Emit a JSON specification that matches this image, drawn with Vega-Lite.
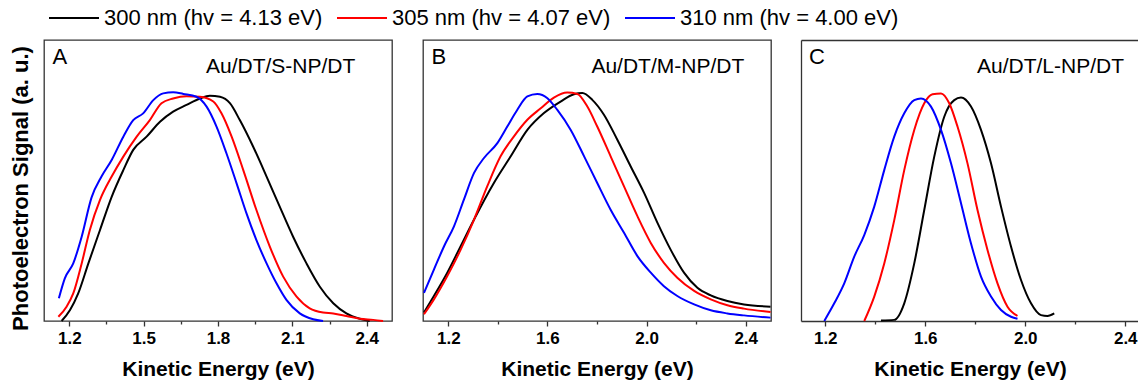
{
  "$schema": "https://vega.github.io/schema/vega-lite/v6.json",
  "padding": {"left": 8, "top": 7, "right": 0, "bottom": 0},
  "spacing": 29,
  "data": {"values": [
    {"p":"A","s":"300","e":1.169,"v":0},{"p":"A","s":"300","e":1.203,"v":0.039},{"p":"A","s":"300","e":1.236,"v":0.098},{"p":"A","s":"300","e":1.277,"v":0.205},{"p":"A","s":"300","e":1.324,"v":0.324},{"p":"A","s":"300","e":1.371,"v":0.442},{"p":"A","s":"300","e":1.418,"v":0.537},{"p":"A","s":"300","e":1.458,"v":0.609},{"p":"A","s":"300","e":1.512,"v":0.656},{"p":"A","s":"300","e":1.566,"v":0.709},{"p":"A","s":"300","e":1.619,"v":0.745},{"p":"A","s":"300","e":1.673,"v":0.769},{"p":"A","s":"300","e":1.727,"v":0.792},{"p":"A","s":"300","e":1.767,"v":0.802},{"p":"A","s":"300","e":1.808,"v":0.798},{"p":"A","s":"300","e":1.848,"v":0.775},{"p":"A","s":"300","e":1.888,"v":0.715},{"p":"A","s":"300","e":1.942,"v":0.62},{"p":"A","s":"300","e":1.996,"v":0.514},{"p":"A","s":"300","e":2.049,"v":0.407},{"p":"A","s":"300","e":2.103,"v":0.3},{"p":"A","s":"300","e":2.157,"v":0.205},{"p":"A","s":"300","e":2.211,"v":0.122},{"p":"A","s":"300","e":2.265,"v":0.063},{"p":"A","s":"300","e":2.318,"v":0.027},{"p":"A","s":"300","e":2.372,"v":0.008},{"p":"A","s":"300","e":2.412,"v":0},
    {"p":"A","s":"305","e":1.156,"v":0.015},{"p":"A","s":"305","e":1.189,"v":0.051},{"p":"A","s":"305","e":1.216,"v":0.098},{"p":"A","s":"305","e":1.25,"v":0.205},{"p":"A","s":"305","e":1.283,"v":0.324},{"p":"A","s":"305","e":1.324,"v":0.431},{"p":"A","s":"305","e":1.371,"v":0.514},{"p":"A","s":"305","e":1.418,"v":0.585},{"p":"A","s":"305","e":1.472,"v":0.656},{"p":"A","s":"305","e":1.525,"v":0.715},{"p":"A","s":"305","e":1.572,"v":0.775},{"p":"A","s":"305","e":1.619,"v":0.792},{"p":"A","s":"305","e":1.673,"v":0.8},{"p":"A","s":"305","e":1.727,"v":0.798},{"p":"A","s":"305","e":1.781,"v":0.781},{"p":"A","s":"305","e":1.814,"v":0.739},{"p":"A","s":"305","e":1.855,"v":0.656},{"p":"A","s":"305","e":1.902,"v":0.537},{"p":"A","s":"305","e":1.955,"v":0.395},{"p":"A","s":"305","e":2.009,"v":0.265},{"p":"A","s":"305","e":2.063,"v":0.158},{"p":"A","s":"305","e":2.117,"v":0.087},{"p":"A","s":"305","e":2.17,"v":0.045},{"p":"A","s":"305","e":2.224,"v":0.03},{"p":"A","s":"305","e":2.265,"v":0.027},{"p":"A","s":"305","e":2.318,"v":0.018},{"p":"A","s":"305","e":2.372,"v":0.008},{"p":"A","s":"305","e":2.426,"v":0.004},{"p":"A","s":"305","e":2.466,"v":0},
    {"p":"A","s":"310","e":1.158,"v":0.081},{"p":"A","s":"310","e":1.182,"v":0.152},{"p":"A","s":"310","e":1.216,"v":0.205},{"p":"A","s":"310","e":1.25,"v":0.3},{"p":"A","s":"310","e":1.29,"v":0.44},{"p":"A","s":"310","e":1.33,"v":0.514},{"p":"A","s":"310","e":1.371,"v":0.573},{"p":"A","s":"310","e":1.418,"v":0.656},{"p":"A","s":"310","e":1.458,"v":0.715},{"p":"A","s":"310","e":1.498,"v":0.739},{"p":"A","s":"310","e":1.539,"v":0.786},{"p":"A","s":"310","e":1.579,"v":0.81},{"p":"A","s":"310","e":1.619,"v":0.814},{"p":"A","s":"310","e":1.66,"v":0.808},{"p":"A","s":"310","e":1.713,"v":0.798},{"p":"A","s":"310","e":1.754,"v":0.763},{"p":"A","s":"310","e":1.794,"v":0.692},{"p":"A","s":"310","e":1.834,"v":0.597},{"p":"A","s":"310","e":1.875,"v":0.49},{"p":"A","s":"310","e":1.915,"v":0.383},{"p":"A","s":"310","e":1.955,"v":0.288},{"p":"A","s":"310","e":1.996,"v":0.205},{"p":"A","s":"310","e":2.036,"v":0.134},{"p":"A","s":"310","e":2.076,"v":0.075},{"p":"A","s":"310","e":2.13,"v":0.027},{"p":"A","s":"310","e":2.184,"v":0.006},{"p":"A","s":"310","e":2.224,"v":0},
    {"p":"B","s":"300","e":1.102,"v":0.03},{"p":"B","s":"300","e":1.142,"v":0.089},{"p":"B","s":"300","e":1.196,"v":0.172},{"p":"B","s":"300","e":1.25,"v":0.266},{"p":"B","s":"300","e":1.304,"v":0.361},{"p":"B","s":"300","e":1.384,"v":0.491},{"p":"B","s":"300","e":1.452,"v":0.586},{"p":"B","s":"300","e":1.519,"v":0.68},{"p":"B","s":"300","e":1.586,"v":0.74},{"p":"B","s":"300","e":1.653,"v":0.781},{"p":"B","s":"300","e":1.707,"v":0.807},{"p":"B","s":"300","e":1.741,"v":0.811},{"p":"B","s":"300","e":1.781,"v":0.787},{"p":"B","s":"300","e":1.828,"v":0.734},{"p":"B","s":"300","e":1.882,"v":0.645},{"p":"B","s":"300","e":1.936,"v":0.55},{"p":"B","s":"300","e":1.99,"v":0.456},{"p":"B","s":"300","e":2.044,"v":0.349},{"p":"B","s":"300","e":2.097,"v":0.254},{"p":"B","s":"300","e":2.151,"v":0.172},{"p":"B","s":"300","e":2.205,"v":0.118},{"p":"B","s":"300","e":2.259,"v":0.091},{"p":"B","s":"300","e":2.326,"v":0.071},{"p":"B","s":"300","e":2.393,"v":0.059},{"p":"B","s":"300","e":2.5,"v":0.051},
    {"p":"B","s":"305","e":1.102,"v":0.024},{"p":"B","s":"305","e":1.142,"v":0.077},{"p":"B","s":"305","e":1.196,"v":0.16},{"p":"B","s":"305","e":1.25,"v":0.254},{"p":"B","s":"305","e":1.304,"v":0.361},{"p":"B","s":"305","e":1.357,"v":0.479},{"p":"B","s":"305","e":1.411,"v":0.586},{"p":"B","s":"305","e":1.465,"v":0.657},{"p":"B","s":"305","e":1.519,"v":0.716},{"p":"B","s":"305","e":1.573,"v":0.757},{"p":"B","s":"305","e":1.626,"v":0.795},{"p":"B","s":"305","e":1.68,"v":0.813},{"p":"B","s":"305","e":1.721,"v":0.808},{"p":"B","s":"305","e":1.761,"v":0.763},{"p":"B","s":"305","e":1.801,"v":0.692},{"p":"B","s":"305","e":1.855,"v":0.586},{"p":"B","s":"305","e":1.909,"v":0.479},{"p":"B","s":"305","e":1.963,"v":0.373},{"p":"B","s":"305","e":2.017,"v":0.278},{"p":"B","s":"305","e":2.07,"v":0.207},{"p":"B","s":"305","e":2.124,"v":0.154},{"p":"B","s":"305","e":2.192,"v":0.107},{"p":"B","s":"305","e":2.259,"v":0.077},{"p":"B","s":"305","e":2.326,"v":0.056},{"p":"B","s":"305","e":2.393,"v":0.044},{"p":"B","s":"305","e":2.5,"v":0.032},
    {"p":"B","s":"310","e":1.102,"v":0.1},{"p":"B","s":"310","e":1.142,"v":0.183},{"p":"B","s":"310","e":1.183,"v":0.266},{"p":"B","s":"310","e":1.223,"v":0.337},{"p":"B","s":"310","e":1.263,"v":0.432},{"p":"B","s":"310","e":1.304,"v":0.527},{"p":"B","s":"310","e":1.344,"v":0.58},{"p":"B","s":"310","e":1.398,"v":0.633},{"p":"B","s":"310","e":1.438,"v":0.692},{"p":"B","s":"310","e":1.478,"v":0.751},{"p":"B","s":"310","e":1.519,"v":0.799},{"p":"B","s":"310","e":1.559,"v":0.808},{"p":"B","s":"310","e":1.6,"v":0.793},{"p":"B","s":"310","e":1.64,"v":0.751},{"p":"B","s":"310","e":1.694,"v":0.68},{"p":"B","s":"310","e":1.748,"v":0.586},{"p":"B","s":"310","e":1.801,"v":0.491},{"p":"B","s":"310","e":1.855,"v":0.396},{"p":"B","s":"310","e":1.909,"v":0.314},{"p":"B","s":"310","e":1.963,"v":0.231},{"p":"B","s":"310","e":2.017,"v":0.172},{"p":"B","s":"310","e":2.07,"v":0.124},{"p":"B","s":"310","e":2.124,"v":0.089},{"p":"B","s":"310","e":2.192,"v":0.059},{"p":"B","s":"310","e":2.259,"v":0.038},{"p":"B","s":"310","e":2.326,"v":0.027},{"p":"B","s":"310","e":2.393,"v":0.02},{"p":"B","s":"310","e":2.5,"v":0.012},
    {"p":"C","s":"300","e":1.423,"v":0.002},{"p":"C","s":"300","e":1.476,"v":0.004},{"p":"C","s":"300","e":1.516,"v":0.063},{"p":"C","s":"300","e":1.556,"v":0.205},{"p":"C","s":"300","e":1.596,"v":0.395},{"p":"C","s":"300","e":1.636,"v":0.585},{"p":"C","s":"300","e":1.676,"v":0.727},{"p":"C","s":"300","e":1.716,"v":0.786},{"p":"C","s":"300","e":1.743,"v":0.795},{"p":"C","s":"300","e":1.783,"v":0.763},{"p":"C","s":"300","e":1.823,"v":0.68},{"p":"C","s":"300","e":1.863,"v":0.561},{"p":"C","s":"300","e":1.903,"v":0.407},{"p":"C","s":"300","e":1.943,"v":0.265},{"p":"C","s":"300","e":1.983,"v":0.146},{"p":"C","s":"300","e":2.023,"v":0.063},{"p":"C","s":"300","e":2.063,"v":0.021},{"p":"C","s":"300","e":2.089,"v":0.018},{"p":"C","s":"300","e":2.116,"v":0.027},
    {"p":"C","s":"305","e":1.356,"v":0},{"p":"C","s":"305","e":1.396,"v":0.087},{"p":"C","s":"305","e":1.436,"v":0.205},{"p":"C","s":"305","e":1.476,"v":0.359},{"p":"C","s":"305","e":1.516,"v":0.537},{"p":"C","s":"305","e":1.556,"v":0.68},{"p":"C","s":"305","e":1.596,"v":0.775},{"p":"C","s":"305","e":1.629,"v":0.807},{"p":"C","s":"305","e":1.663,"v":0.81},{"p":"C","s":"305","e":1.696,"v":0.775},{"p":"C","s":"305","e":1.729,"v":0.692},{"p":"C","s":"305","e":1.769,"v":0.561},{"p":"C","s":"305","e":1.809,"v":0.395},{"p":"C","s":"305","e":1.849,"v":0.253},{"p":"C","s":"305","e":1.889,"v":0.134},{"p":"C","s":"305","e":1.929,"v":0.051},{"p":"C","s":"305","e":1.969,"v":0.018},
    {"p":"C","s":"310","e":1.196,"v":0},{"p":"C","s":"310","e":1.236,"v":0.063},{"p":"C","s":"310","e":1.276,"v":0.134},{"p":"C","s":"310","e":1.316,"v":0.229},{"p":"C","s":"310","e":1.356,"v":0.306},{"p":"C","s":"310","e":1.396,"v":0.407},{"p":"C","s":"310","e":1.436,"v":0.537},{"p":"C","s":"310","e":1.476,"v":0.656},{"p":"C","s":"310","e":1.516,"v":0.739},{"p":"C","s":"310","e":1.556,"v":0.786},{"p":"C","s":"310","e":1.583,"v":0.792},{"p":"C","s":"310","e":1.623,"v":0.763},{"p":"C","s":"310","e":1.663,"v":0.68},{"p":"C","s":"310","e":1.703,"v":0.561},{"p":"C","s":"310","e":1.743,"v":0.419},{"p":"C","s":"310","e":1.783,"v":0.276},{"p":"C","s":"310","e":1.823,"v":0.158},{"p":"C","s":"310","e":1.863,"v":0.087},{"p":"C","s":"310","e":1.903,"v":0.039},{"p":"C","s":"310","e":1.943,"v":0.015},{"p":"C","s":"310","e":1.969,"v":0.008}
  ]},
  "hconcat": [
    {
      "width": 348, "height": 281,
      "resolve": {"axis": {"x": "independent"}},
      "layer": [
        {
          "transform": [{"filter": "datum.p == 'A'"}],
          "mark": {"type": "line", "strokeWidth": 2, "interpolate": "monotone"},
          "encoding": {
            "x": {"field": "e", "type": "quantitative", "scale": {"domain": [1.098, 2.502], "nice": false, "zero": false},
              "axis": {"orient": "bottom", "values": [1.2, 1.5, 1.8, 2.1, 2.4], "format": ".1f", "tickSize": 5, "title": "Kinetic Energy (eV)"}},
            "y": {"field": "v", "type": "quantitative", "scale": {"domain": [0, 1], "nice": false},
              "axis": {"title": "Photoelectron Signal (a. u.)", "ticks": false, "labels": false, "domain": false, "grid": false, "titleFontSize": 22, "titleFontWeight": "bold", "titlePadding": 12, "titleColor": "#000", "titleY": 148}},
            "color": {"field": "s", "type": "nominal", "title": null,
              "scale": {"domain": ["300", "305", "310"], "range": ["#000000", "#ff0000", "#0000ff"]},
              "legend": {"labelExpr": "datum.label == '300' ? '300 nm (hv = 4.13 eV)' : datum.label == '305' ? '305 nm (hv = 4.07 eV)' : '310 nm (hv = 4.00 eV)'"}}
          }
        },
        {
          "data": {"values": [{"t": "A"}]},
          "mark": {"type": "text", "align": "left", "baseline": "alphabetic", "fontSize": 22, "color": "#000"},
          "encoding": {"text": {"field": "t"},
            "x": {"datum": 1.132, "type": "quantitative", "axis": {"orient": "bottom", "values": [1.35, 1.65, 1.95, 2.25], "labels": false, "tickSize": 3, "title": null}},
            "y": {"datum": 0.914, "type": "quantitative"}}
        },
        {
          "data": {"values": [{"t": "Au/DT/S-NP/DT"}]},
          "mark": {"type": "text", "align": "right", "baseline": "alphabetic", "fontSize": 21, "color": "#000"},
          "encoding": {"text": {"field": "t"}, "x": {"datum": 2.354, "type": "quantitative", "axis": null}, "y": {"datum": 0.881, "type": "quantitative"}}
        }
      ]
    },
    {
      "width": 348, "height": 281,
      "resolve": {"axis": {"x": "independent"}},
      "layer": [
        {
          "transform": [{"filter": "datum.p == 'B'"}],
          "mark": {"type": "line", "strokeWidth": 2, "interpolate": "monotone", "clip": true},
          "encoding": {
            "x": {"field": "e", "type": "quantitative", "scale": {"domain": [1.098, 2.502], "nice": false, "zero": false},
              "axis": {"orient": "bottom", "values": [1.2, 1.6, 2.0, 2.4], "format": ".1f", "tickSize": 5, "title": "Kinetic Energy (eV)"}},
            "y": {"field": "v", "type": "quantitative", "scale": {"domain": [0, 1], "nice": false}, "axis": null},
            "color": {"field": "s", "type": "nominal", "title": null,
              "scale": {"domain": ["300", "305", "310"], "range": ["#000000", "#ff0000", "#0000ff"]},
              "legend": {"labelExpr": "datum.label == '300' ? '300 nm (hv = 4.13 eV)' : datum.label == '305' ? '305 nm (hv = 4.07 eV)' : '310 nm (hv = 4.00 eV)'"}}
          }
        },
        {
          "data": {"values": [{"t": "B"}]},
          "mark": {"type": "text", "align": "left", "baseline": "alphabetic", "fontSize": 22, "color": "#000"},
          "encoding": {"text": {"field": "t"},
            "x": {"datum": 1.132, "type": "quantitative", "axis": {"orient": "bottom", "values": [1.4, 1.8, 2.2], "labels": false, "tickSize": 3, "title": null}},
            "y": {"datum": 0.914, "type": "quantitative", "axis": null}}
        },
        {
          "data": {"values": [{"t": "Au/DT/M-NP/DT"}]},
          "mark": {"type": "text", "align": "right", "baseline": "alphabetic", "fontSize": 21, "color": "#000"},
          "encoding": {"text": {"field": "t"}, "x": {"datum": 2.394, "type": "quantitative", "axis": null}, "y": {"datum": 0.881, "type": "quantitative", "axis": null}}
        }
      ]
    },
    {
      "width": 338, "height": 281,
      "view": {"stroke": null},
      "resolve": {"axis": {"x": "independent"}},
      "layer": [
        {
          "transform": [{"filter": "datum.p == 'C'"}],
          "mark": {"type": "line", "strokeWidth": 2, "interpolate": "monotone"},
          "encoding": {
            "x": {"field": "e", "type": "quantitative", "scale": {"domain": [1.103, 2.455], "nice": false, "zero": false},
              "axis": {"orient": "bottom", "values": [1.2, 1.6, 2.0, 2.4], "format": ".1f", "tickSize": 5, "domain": true, "title": "Kinetic Energy (eV)"}},
            "y": {"field": "v", "type": "quantitative", "scale": {"domain": [0, 1], "nice": false},
              "axis": {"title": null, "ticks": false, "labels": false, "domain": true, "grid": false}},
            "color": {"field": "s", "type": "nominal", "title": null,
              "scale": {"domain": ["300", "305", "310"], "range": ["#000000", "#ff0000", "#0000ff"]},
              "legend": {"labelExpr": "datum.label == '300' ? '300 nm (hv = 4.13 eV)' : datum.label == '305' ? '305 nm (hv = 4.07 eV)' : '310 nm (hv = 4.00 eV)'"}}
          }
        },
        {
          "data": {"values": [{"t": "C"}]},
          "mark": {"type": "text", "align": "left", "baseline": "alphabetic", "fontSize": 22, "color": "#000"},
          "encoding": {"text": {"field": "t"},
            "x": {"datum": 1.135, "type": "quantitative", "axis": {"orient": "bottom", "values": [1.4, 1.8, 2.2], "labels": false, "tickSize": 3, "title": null}},
            "y": {"datum": 0.914, "type": "quantitative"}}
        },
        {
          "data": {"values": [{"t": "Au/DT/L-NP/DT"}]},
          "mark": {"type": "text", "align": "right", "baseline": "alphabetic", "fontSize": 21, "color": "#000"},
          "encoding": {"text": {"field": "t"},
            "x": {"datum": 2.395, "type": "quantitative", "axis": {"orient": "top", "domain": true, "ticks": false, "labels": false, "title": null}},
            "y": {"datum": 0.881, "type": "quantitative"}}
        }
      ]
    }
  ],
  "resolve": {"scale": {"color": "shared"}, "legend": {"color": "shared"}},
  "config": {
    "font": "Liberation Sans",
    "view": {"stroke": "#333333", "strokeWidth": 1.3},
    "axis": {"grid": false, "domain": false, "domainColor": "#333333", "domainWidth": 1.3, "tickColor": "#333333", "tickWidth": 1.3,
      "labelFontSize": 17, "labelFontWeight": "bold", "labelColor": "#000", "labelPadding": 4, "labelFlush": false, "labelOverlap": false, "labelBound": false,
      "titleFontSize": 21, "titleFontWeight": "bold", "titleColor": "#000", "titlePadding": 12},
    "legend": {"orient": "none", "legendX": 4, "legendY": -33, "direction": "horizontal", "symbolType": "stroke", "symbolSize": 2500, "symbolStrokeWidth": 2, "clipHeight": 22,
      "labelFontSize": 22, "labelColor": "#000", "labelOffset": 4, "columnPadding": 13, "labelLimit": 400, "padding": 0}
  }
}
